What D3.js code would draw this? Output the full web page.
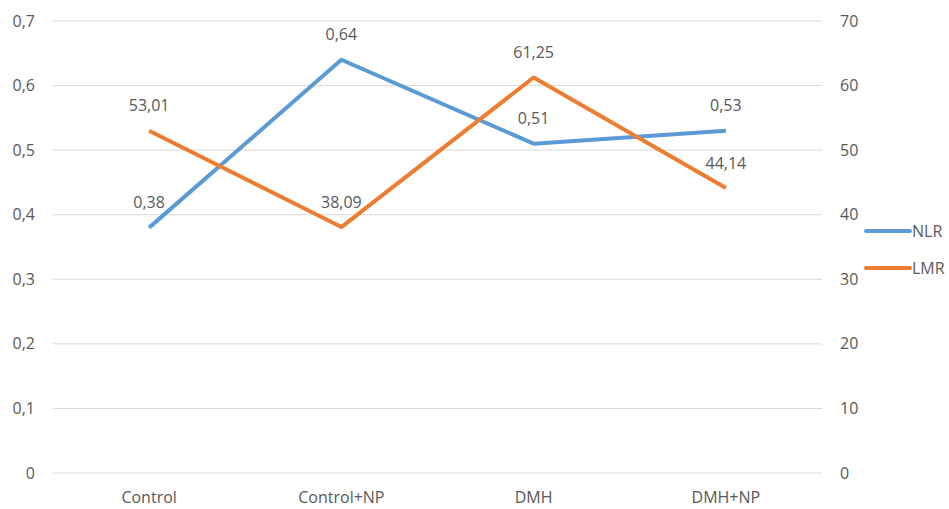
<!DOCTYPE html>
<html>
<head>
<meta charset="utf-8">
<script src="https://cdn.jsdelivr.net/npm/d3@7"></script>
<style>
  body { margin: 0; background: #fff; }
  text { font-family: "Open Sans", sans-serif; fill: #595959; }
</style>
</head>
<body>
<svg id="chart" width="949" height="509"></svg>
<script>
const categories = ["Control", "Control+NP", "DMH", "DMH+NP"]
const nlrValues = [0.38, 0.64, 0.51, 0.53]
const lmrValues = [53.01, 38.09, 61.25, 44.14]
const leftTicks = [0, 0.1, 0.2, 0.3, 0.4, 0.5, 0.6, 0.7]
const rightTicks = [0, 10, 20, 30, 40, 50, 60, 70]
const series = [
  { name: "NLR", values: nlrValues, color: "#5B9BD5", axis: "left", fmt: d => d.toFixed(2).replace(".", ",") },
  { name: "LMR", values: lmrValues, color: "#ED7D31", axis: "right", fmt: d => d.toFixed(2).replace(".", ",") }
]

const svg = d3.select("#chart")
const plotLeft = 53, plotRight = 822, plotTop = 21, plotBottom = 473
const fs = "16px"

const x = d3.scaleBand().domain(categories).range([plotLeft, plotRight])
const yL = d3.scaleLinear().domain([0, 0.7]).range([plotBottom, plotTop])
const yR = d3.scaleLinear().domain([0, 70]).range([plotBottom, plotTop])

// gridlines
svg.append("g").selectAll("line").data(leftTicks).enter().append("line")
  .attr("x1", plotLeft).attr("x2", plotRight)
  .attr("y1", d => yL(d)).attr("y2", d => yL(d))
  .attr("stroke", "#d9d9d9").attr("stroke-width", 1)

// left axis labels
svg.append("g").selectAll("text").data(leftTicks).enter().append("text")
  .attr("x", 35).attr("y", d => yL(d)).attr("dy", "0.35em")
  .attr("text-anchor", "end").style("font-size", fs)
  .text(d => d === 0 ? "0" : d.toFixed(1).replace(".", ","))

// right axis labels
svg.append("g").selectAll("text").data(rightTicks).enter().append("text")
  .attr("x", 840).attr("y", d => yR(d)).attr("dy", "0.35em")
  .attr("text-anchor", "start").style("font-size", fs)
  .text(d => d)

// category labels
svg.append("g").selectAll("text").data(categories).enter().append("text")
  .attr("x", d => x(d) + x.bandwidth() / 2).attr("y", 497).attr("dy", "0.35em")
  .attr("text-anchor", "middle").style("font-size", fs)
  .text(d => d)

const line = yScale => d3.line()
  .x((d, i) => x(categories[i]) + x.bandwidth() / 2)
  .y(d => yScale(d))

series.forEach(s => {
  let ys = s.axis === "left" ? yL : yR
  svg.append("path").datum(s.values)
    .attr("d", line(ys))
    .attr("fill", "none").attr("stroke", s.color)
    .attr("stroke-width", 4).attr("stroke-linejoin", "round")
  svg.append("g").selectAll("text").data(s.values).enter().append("text")
    .attr("x", (d, i) => x(categories[i]) + x.bandwidth() / 2)
    .attr("y", d => ys(d) - 25).attr("dy", "0.35em")
    .attr("text-anchor", "middle").style("font-size", fs)
    .text(s.fmt)
})

// legend
const legend = svg.append("g").selectAll("g").data(series).enter().append("g")
  .attr("transform", (d, i) => `translate(866,${231 + i * 37})`)
legend.append("line").attr("x1", 0).attr("x2", 44)
  .attr("stroke", d => d.color).attr("stroke-width", 4).attr("stroke-linecap", "round")
legend.append("text").attr("x", 46).attr("dy", "0.35em")
  .style("font-size", fs).text(d => d.name)
</script>
</body>
</html>
